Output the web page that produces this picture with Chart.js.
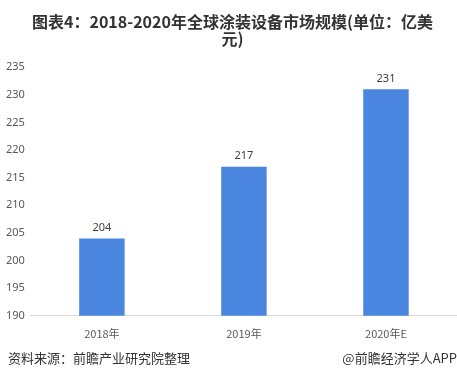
<!DOCTYPE html>
<html><head><meta charset="utf-8">
<script src="https://cdn.jsdelivr.net/npm/chart.js@4/dist/chart.umd.min.js"></script>
<style>
html,body{margin:0;padding:0;background:#fff;}
#wrap{position:relative;width:457px;height:379px;}
canvas{position:absolute;left:0;top:0;}
.foot{position:absolute;top:348px;font-family:"Noto Sans CJK SC","Noto Sans",sans-serif;font-size:13px;color:#333;white-space:nowrap;}
</style></head>
<body>
<div id="wrap">
<canvas id="c" width="457" height="379"></canvas>
<div class="foot" style="left:8px;">资料来源：前瞻产业研究院整理</div>
<div class="foot" style="right:0px;">@前瞻经济学人APP</div>
</div>
<script>
const categories = ["2018年", "2019年", "2020年E"];
const values = [204, 217, 231];
const yTicks = [190, 195, 200, 205, 210, 215, 220, 225, 230, 235];
const titleLines = ["图表4：2018-2020年全球涂装设备市场规模(单位：亿美", "元)"];

const labelPlugin = {
  id: 'valLabels',
  afterDatasetsDraw(chart) {
    const ctx = chart.ctx;
    const meta = chart.getDatasetMeta(0);
    ctx.save();
    ctx.font = '11px "Noto Sans", "DejaVu Sans", sans-serif';
    ctx.fillStyle = '#404040';
    ctx.textAlign = 'center';
    ctx.textBaseline = 'bottom';
    meta.data.forEach((bar, i) => {
      ctx.fillText(String(values[i]), bar.x, bar.y - 5);
    });
    ctx.restore();
  }
};

new Chart(document.getElementById('c'), {
  type: 'bar',
  data: {
    labels: categories,
    datasets: [{
      data: values,
      backgroundColor: '#4a86e0',
      categoryPercentage: 1.0,
      barPercentage: 0.32
    }]
  },
  options: {
    responsive: false,
    animation: false,
    layout: { padding: { left: 0, right: -8, top: 0, bottom: 28 } },
    plugins: {
      legend: { display: false },
      tooltip: { enabled: false },
      title: {
        display: true,
        text: titleLines,
        color: '#333333',
        font: { family: '"Noto Sans CJK SC", sans-serif', size: 16, weight: 'bold', lineHeight: 1.1 },
        padding: { top: 13, bottom: 19 }
      }
    },
    scales: {
      x: {
        grid: { display: false, drawTicks: false },
        border: { display: true, color: '#d9d9d9', width: 1 },
        ticks: { color: '#595959', font: { family: '"Noto Sans CJK SC", sans-serif', size: 11 }, padding: 11 }
      },
      y: {
        min: 190, max: 235,
        afterBuildTicks(axis) { axis.ticks = yTicks.map(v => ({ value: v })); },
        grid: { display: false, drawTicks: false },
        border: { display: false },
        ticks: { color: '#595959', font: { family: '"Noto Sans", sans-serif', size: 11 }, padding: 6 }
      }
    }
  },
  plugins: [labelPlugin]
});
</script>
</body></html>
